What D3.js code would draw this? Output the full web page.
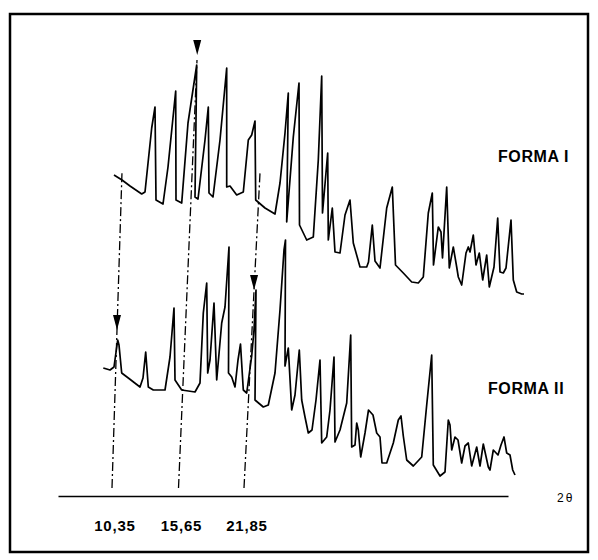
<!DOCTYPE html>
<html>
<head>
<meta charset="utf-8">
<script src="https://cdn.jsdelivr.net/npm/d3@7"></script>
<style>
  body { margin: 0; background: #fff; }
  svg { display: block; }
  .label { font-family: "Liberation Sans", Arial, sans-serif; font-weight: bold; font-size: 15px; fill: #000; }
</style>
</head>
<body>
<svg></svg>
<script>
const svgWidth = 598;
const svgHeight = 560;

// chart-paper units: x along the recorder trace, h = height above the 2-theta axis
// trace I: [x, intensity] above its own baseline
const formaI = [
  [56,125],[64,120],[72,114],[83.7,106],[87,108],[93.7,172],[97,193],[98,100],[105,96],[110,133],
  [117.7,209],[118,100],[123.7,97],[130,177],[138.7,235],[137,103],[140,101],[147,160],[150.3,193],[151,107],
  [155,103],[162,160],[168.7,232],[168.7,113],[172,114],[178.7,105],[185.3,108],[190.3,160],[193.7,165],[197,179],
  [197.7,100],[207,92],[217,86],[222,117],[227,167],[230.3,207],[228.7,78],[235.3,163],[241,217],[241.5,75],
  [248.7,60],[255.3,63],[260.3,140],[263.7,224],[264.5,87],[269.7,147],[270.3,60],[274.3,92],[277,48],[282,47],
  [287,85],[292,100],[295.3,57],[302,33],[308.7,33],[310.5,38],[314.3,75],[317,39],[322,32],[328.7,92],
  [334.3,113],[337.5,35],[345.3,27],[353.7,18],[360.3,17],[365.3,23],[370.3,87],[374.3,107],[375.5,35],[380.3,73],
  [383,68],[384.5,42],[388.7,113],[391.3,32],[395.3,53],[398.7,33],[400.3,23],[403.7,15],[408,47],[410.3,53],
  [412,48],[415.3,65],[418,35],[421.3,47],[424.7,20],[428.7,45],[431.3,13],[436,33],[439.7,82],[442,28],
  [445.3,27],[448,32],[453,80],[455.3,20],[458.7,8],[463.7,6],[466,6]
];

// trace II: [x, intensity] above its own baseline
const formaII = [
  [45.3,112],[52,110],[56,113],[59.7,140],[61,135],[63.7,107],[70.3,102],[82,93],[85,102],[87.7,128],
  [90.3,93],[95.3,90],[107,90],[112,123],[116,172],[117,100],[123.7,90],[137,88],[142,97],[145.3,167],
  [148.7,197],[149.7,107],[152,120],[156,177],[158.7,100],[163.7,157],[167,173],[171,233],[170.5,107],[173.7,103],
  [177,93],[180,120],[182.5,136],[185.3,90],[188.7,87],[193.7,124],[196,150],[198,190],[197,80],[205.3,73],
  [210.3,75],[217,107],[222,170],[226,230],[227.5,240],[227,114],[230.3,132],[233.7,70],[237,85],[241.3,130],
  [243.7,80],[247,63],[250.3,47],[254,50],[258,80],[262,120],[263.7,37],[268.7,43],[272,70],[276,123],
  [277,38],[282,50],[288.7,77],[292.7,145],[293.7,33],[297,35],[298.7,57],[300.3,50],[302.7,23],[307,47],
  [310.5,70],[315,65],[318.7,47],[322,43],[324,17],[328.7,17],[335.3,37],[340.3,60],[343,64],[345.3,44],
  [348.7,20],[355.3,14],[360,19],[363.7,23],[368.7,75],[373.7,125],[375.3,15],[382,4],[387,8],[390.3,60],
  [392,55],[393.7,30],[397,43],[400,40],[403.7,17],[407,34],[410.3,37],[413.7,14],[418.7,33],[422,14],
  [425.3,36],[430.3,13],[432,10],[435.3,30],[440,25],[443,35],[446,43],[448.7,27],[452,25],[454.7,10],[457,5]
];

const traceNames = ["FORMA I", "FORMA II"];
const traceOffsets = [196, 16];

// reference lines (2-theta markers)
const markerLabels = ["10,35", "15,65", "21,85"];
const markerBaseX = [54, 120.5, 186];
const markerTopX = [64, 139, 202];
const markerTopH = [324, 436, 323];
const arrowTipH = [166, 441, 206];

const axisLabel = "2θ";

const svg = d3.select("svg")
    .attr("width", svgWidth)
    .attr("height", svgHeight);

// frame
svg.append("rect")
    .attr("x", 10).attr("y", 14)
    .attr("width", 578).attr("height", 538)
    .attr("fill", "none")
    .attr("stroke", "#000")
    .attr("stroke-width", 2.5);

const x = d3.scaleLinear().domain([0, 450]).range([58, 508]);
const y = d3.scaleLinear().domain([0, 450]).range([496, 46]);

// axis line, no ticks
svg.append("g")
    .attr("transform", `translate(0,${y(0)})`)
    .call(d3.axisBottom(x).tickValues([]).tickSizeOuter(0))
    .call(g => g.select(".domain").attr("stroke", "#000").attr("stroke-width", 1.4));

// traces
[formaI, formaII].forEach((data, i) => {
    const line = d3.line()
        .x(d => x(d[0]))
        .y(d => y(d[1] + traceOffsets[i]));
    svg.append("path")
        .datum(data)
        .attr("fill", "none")
        .attr("stroke", "#000")
        .attr("stroke-width", 1.7)
        .attr("stroke-linejoin", "round")
        .attr("d", line);
});

// dash-dot marker lines with arrows
const lowH = 8;
markerLabels.forEach((lab, i) => {
    const xAt = h => markerBaseX[i] + (markerTopX[i] - markerBaseX[i]) * (h - lowH) / (markerTopH[i] - lowH);
    svg.append("line")
        .attr("x1", x(xAt(lowH))).attr("y1", y(lowH))
        .attr("x2", x(markerTopX[i])).attr("y2", y(markerTopH[i]))
        .attr("stroke", "#000")
        .attr("stroke-width", 1.3)
        .attr("stroke-dasharray", "9,3,2,3");

    const tipX = x(xAt(arrowTipH[i]));
    const tipY = y(arrowTipH[i]);
    svg.append("path")
        .attr("d", `M${tipX},${tipY} L${tipX - 4},${tipY - 15} L${tipX + 4},${tipY - 15} Z`)
        .attr("fill", "#000");

    svg.append("text")
        .attr("class", "label")
        .attr("x", x(markerBaseX[i]) + 3)
        .attr("y", 531)
        .attr("text-anchor", "middle")
        .style("letter-spacing", "0.8px")
        .text(lab);
});

// trace names
svg.append("text").attr("class", "label")
    .attr("x", 498).attr("y", 162)
    .style("font-size", "16px")
    .style("letter-spacing", "0.6px")
    .text(traceNames[0]);
svg.append("text").attr("class", "label")
    .attr("x", 488).attr("y", 394)
    .style("font-size", "16px")
    .style("letter-spacing", "0.6px")
    .text(traceNames[1]);

// 2 theta
svg.append("text")
    .attr("x", 557).attr("y", 502)
    .style("font-family", "'Liberation Sans', Arial, sans-serif")
    .style("font-size", "12px")
    .style("letter-spacing", "2px")
    .text(axisLabel);
</script>
</body>
</html>
